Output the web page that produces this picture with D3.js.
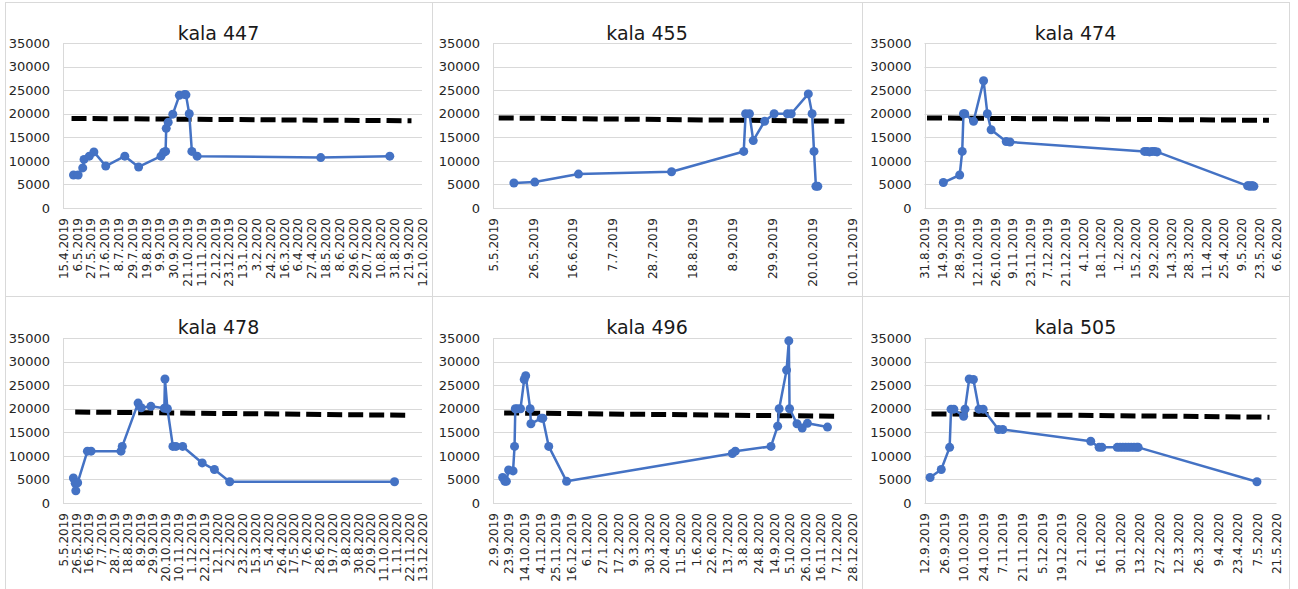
<!DOCTYPE html>
<html>
<head>
<meta charset="utf-8">
<script src="https://cdn.jsdelivr.net/npm/d3@7"></script>
<style>
  html, body { margin: 0; padding: 0; background: #fff; }
  svg { display: block; font-family: "DejaVu Sans", sans-serif; }
</style>
</head>
<body>
<svg id="chart" width="1298" height="589"></svg>
<script>
// ---- Panel titles ----
const titles = ["kala 447", "kala 455", "kala 474", "kala 478", "kala 496", "kala 505"];

// ---- Value axis ----
const yTicks = [0, 5000, 10000, 15000, 20000, 25000, 30000, 35000];

// ---- kala 447 ----
const tickLabels447 = ["15.4.2019","6.5.2019","27.5.2019","17.6.2019","8.7.2019","29.7.2019","19.8.2019","9.9.2019","30.9.2019","21.10.2019","11.11.2019","2.12.2019","23.12.2019","13.1.2020","3.2.2020","24.2.2020","16.3.2020","6.4.2020","27.4.2020","18.5.2020","8.6.2020","29.6.2020","20.7.2020","10.8.2020","31.8.2020","21.9.2020","12.10.2020"];
const dates447 = ["1.5.2019","8.5.2019","15.5.2019","17.5.2019","25.5.2019","1.6.2019","19.6.2019","18.7.2019","8.8.2019","11.9.2019","15.9.2019","18.9.2019","19.9.2019","22.9.2019","29.9.2019","9.10.2019","17.10.2019","19.10.2019","24.10.2019","28.10.2019","5.11.2019","11.5.2020","24.8.2020"];
const values447 = [7000,7000,8500,10300,11000,11900,8900,11000,8700,11000,11800,12000,16900,18200,19900,23900,24100,24000,20000,12000,11000,10700,11000];
const limitDates447 = ["28.4.2019","26.9.2020"];
const limitValues447 = [19000,18500];

// ---- kala 455 ----
const tickLabels455 = ["5.5.2019","26.5.2019","16.6.2019","7.7.2019","28.7.2019","18.8.2019","8.9.2019","29.9.2019","20.10.2019","10.11.2019"];
const dates455 = ["16.5.2019","27.5.2019","19.6.2019","7.8.2019","14.9.2019","15.9.2019","17.9.2019","19.9.2019","25.9.2019","30.9.2019","7.10.2019","9.10.2019","18.10.2019","20.10.2019","21.10.2019","22.10.2019","23.10.2019"];
const values455 = [5300,5500,7200,7700,12000,20000,20000,14300,18400,20000,20000,20000,24200,20000,12000,4600,4600];
const limitDates455 = ["8.5.2019","6.11.2019"];
const limitValues455 = [19100,18400];

// ---- kala 474 ----
const tickLabels474 = ["31.8.2019","14.9.2019","28.9.2019","12.10.2019","26.10.2019","9.11.2019","23.11.2019","7.12.2019","21.12.2019","4.1.2020","18.1.2020","1.2.2020","15.2.2020","29.2.2020","14.3.2020","28.3.2020","11.4.2020","25.4.2020","9.5.2020","23.5.2020","6.6.2020"];
const dates474 = ["15.9.2019","28.9.2019","30.9.2019","1.10.2019","2.10.2019","9.10.2019","17.10.2019","20.10.2019","23.10.2019","4.11.2019","7.11.2019","22.2.2020","24.2.2020","26.2.2020","28.2.2020","1.3.2020","3.3.2020","14.5.2020","15.5.2020","16.5.2020","17.5.2020","18.5.2020","19.5.2020"];
const values474 = [5400,7000,12000,20000,20000,18400,27000,20000,16600,14100,14000,12000,12000,11900,12000,12000,11900,4700,4700,4600,4700,4700,4600];
const limitDates474 = ["2.9.2019","31.5.2020"];
const limitValues474 = [19100,18600];

// ---- kala 478 ----
const tickLabels478 = ["5.5.2019","26.5.2019","16.6.2019","7.7.2019","28.7.2019","18.8.2019","8.9.2019","29.9.2019","20.10.2019","10.11.2019","1.12.2019","22.12.2019","12.1.2020","2.2.2020","23.2.2020","15.3.2020","5.4.2020","26.4.2020","17.5.2020","7.6.2020","28.6.2020","19.7.2020","9.8.2020","30.8.2020","20.9.2020","11.10.2020","1.11.2020","22.11.2020","13.12.2020"];
const dates478 = ["22.5.2019","25.5.2019","26.5.2019","29.5.2019","14.6.2019","20.6.2019","8.8.2019","10.8.2019","5.9.2019","10.9.2019","26.9.2019","18.10.2019","19.10.2019","23.10.2019","1.11.2019","6.11.2019","17.11.2019","19.12.2019","8.1.2020","2.2.2020","29.10.2020"];
const values478 = [5300,4200,2600,4300,11000,11000,11000,12000,21200,20200,20500,20100,26300,20000,12000,12000,12000,8500,7100,4500,4500];
const limitDates478 = ["25.5.2019","25.11.2020"];
const limitValues478 = [19300,18600];

// ---- kala 496 ----
const tickLabels496 = ["2.9.2019","23.9.2019","14.10.2019","4.11.2019","25.11.2019","16.12.2019","6.1.2020","27.1.2020","17.2.2020","9.3.2020","30.3.2020","20.4.2020","11.5.2020","1.6.2020","22.6.2020","13.7.2020","3.8.2020","24.8.2020","14.9.2020","5.10.2020","26.10.2020","16.11.2020","7.12.2020","28.12.2020"];
const dates496 = ["15.9.2019","18.9.2019","20.9.2019","23.9.2019","29.9.2019","1.10.2019","2.10.2019","5.10.2019","9.10.2019","14.10.2019","16.10.2019","22.10.2019","23.10.2019","6.11.2019","8.11.2019","16.11.2019","10.12.2019","20.7.2020","24.7.2020","10.9.2020","19.9.2020","21.9.2020","1.10.2020","4.10.2020","5.10.2020","15.10.2020","22.10.2020","29.10.2020","25.11.2020"];
const values496 = [5400,4600,4600,7000,6800,12000,20000,20000,20000,26200,27000,20000,16800,18000,18000,12000,4600,10500,11000,12000,16300,20000,28200,34400,20000,16800,15900,16900,16100];
const limitDates496 = ["17.9.2019","8.12.2020"];
const limitValues496 = [19100,18400];

// ---- kala 505 ----
const tickLabels505 = ["12.9.2019","26.9.2019","10.10.2019","24.10.2019","7.11.2019","21.11.2019","5.12.2019","19.12.2019","2.1.2020","16.1.2020","30.1.2020","13.2.2020","27.2.2020","12.3.2020","26.3.2020","9.4.2020","23.4.2020","7.5.2020","21.5.2020"];
const dates505 = ["16.9.2019","24.9.2019","30.9.2019","1.10.2019","3.10.2019","10.10.2019","11.10.2019","14.10.2019","17.10.2019","21.10.2019","24.10.2019","4.11.2019","7.11.2019","9.1.2020","15.1.2020","17.1.2020","28.1.2020","30.1.2020","1.2.2020","3.2.2020","5.2.2020","7.2.2020","9.2.2020","11.2.2020","12.2.2020","7.5.2020"];
const values505 = [5400,7100,11800,19900,19900,18400,19900,26300,26200,19900,19900,15600,15600,13100,11800,11800,11800,11800,11800,11800,11800,11800,11800,11800,11800,4500];
const limitDates505 = ["17.9.2019","16.5.2020"];
const limitValues505 = [18900,18200];

// ---- Panel table built from the arrays above ----
const panels = [
  { title: titles[0], ticks: tickLabels447, dates: dates447, values: values447, limitDates: limitDates447, limitValues: limitValues447 },
  { title: titles[1], ticks: tickLabels455, dates: dates455, values: values455, limitDates: limitDates455, limitValues: limitValues455 },
  { title: titles[2], ticks: tickLabels474, dates: dates474, values: values474, limitDates: limitDates474, limitValues: limitValues474 },
  { title: titles[3], ticks: tickLabels478, dates: dates478, values: values478, limitDates: limitDates478, limitValues: limitValues478 },
  { title: titles[4], ticks: tickLabels496, dates: dates496, values: values496, limitDates: limitDates496, limitValues: limitValues496 },
  { title: titles[5], ticks: tickLabels505, dates: dates505, values: values505, limitDates: limitDates505, limitValues: limitValues505 }
];

// ---- Layout of the 3 x 2 grid ----
const colBox  = [[5, 432], [432, 862], [862, 1289]];
const colPlot = [[63, 422], [493, 852], [924.5, 1276.5]];
const rowBox  = [[2, 296], [296, 592]];
const rowPlot = [[43, 208], [338, 503]];

const parseDate = d3.timeParse("%d.%m.%Y");
const svg = d3.select("#chart");

const seriesColor = "#4472C4";
const gridColor = "#d9d9d9";
const labelColor = "#262626";

panels.forEach((p, i) => {
  const c = i % 3, r = Math.floor(i / 3);
  const [bx0, bx1] = colBox[c];
  const [by0, by1] = rowBox[r];
  const [px0, px1] = colPlot[c];
  const [py0, py1] = rowPlot[r];

  const g = svg.append("g");

  // panel frame
  g.append("rect")
    .attr("x", bx0 + 0.5).attr("y", by0 + 0.5)
    .attr("width", bx1 - bx0).attr("height", by1 - by0)
    .attr("fill", "#fff").attr("stroke", gridColor);

  const tickDates = p.ticks.map(parseDate);
  const x = d3.scaleTime()
    .domain([tickDates[0], tickDates[tickDates.length - 1]])
    .range([px0, px1]);
  const y = d3.scaleLinear().domain([0, 35000]).range([py1, py0]);

  // horizontal gridlines
  g.append("g").selectAll("line").data(yTicks).join("line")
    .attr("x1", px0).attr("x2", px1)
    .attr("y1", d => Math.round(y(d)) + 0.5)
    .attr("y2", d => Math.round(y(d)) + 0.5)
    .attr("stroke", gridColor).attr("stroke-width", 1);

  // left edge of the plot area
  g.append("line")
    .attr("x1", Math.round(px0) + 0.5).attr("x2", Math.round(px0) + 0.5)
    .attr("y1", py0).attr("y2", py1)
    .attr("stroke", gridColor);

  // value axis
  const yAxisG = g.append("g")
    .attr("transform", `translate(${px0},0)`)
    .call(d3.axisLeft(y).tickValues(yTicks).tickSize(0).tickPadding(13).tickFormat(d3.format("d")));
  yAxisG.select(".domain").remove();
  yAxisG.attr("font-family", null).attr("font-size", null);
  yAxisG.selectAll("text")
    .attr("fill", labelColor)
    .style("font-size", "13px");

  // date axis with rotated labels
  const xAxisG = g.append("g")
    .attr("transform", `translate(0,${py1})`)
    .call(d3.axisBottom(x).tickValues(tickDates).tickSize(0).tickFormat((d, k) => p.ticks[k]));
  xAxisG.select(".domain").remove();
  xAxisG.attr("font-family", null).attr("font-size", null);
  xAxisG.selectAll("text")
    .attr("transform", "rotate(-90)")
    .attr("text-anchor", "end")
    .attr("x", -10).attr("y", 0).attr("dy", "0.35em")
    .attr("fill", labelColor)
    .style("font-size", "12px");

  // dashed limit line
  const limit = p.limitDates.map((d, k) => ({ date: parseDate(d), value: p.limitValues[k] }));
  g.append("path")
    .datum(limit)
    .attr("d", d3.line().x(d => x(d.date)).y(d => y(d.value)))
    .attr("fill", "none")
    .attr("stroke", "#000")
    .attr("stroke-width", 5)
    .attr("stroke-dasharray", "15,6");

  // measured series
  const pts = p.dates.map((d, k) => ({ date: parseDate(d), value: p.values[k] }));
  g.append("path")
    .datum(pts)
    .attr("d", d3.line().x(d => x(d.date)).y(d => y(d.value)))
    .attr("fill", "none")
    .attr("stroke", seriesColor)
    .attr("stroke-width", 2.5)
    .attr("stroke-linejoin", "round");
  g.append("g").selectAll("circle").data(pts).join("circle")
    .attr("cx", d => x(d.date))
    .attr("cy", d => y(d.value))
    .attr("r", 4.5)
    .attr("fill", seriesColor);

  // title
  g.append("text")
    .attr("x", (bx0 + bx1) / 2)
    .attr("y", by0 + 38)
    .attr("text-anchor", "middle")
    .attr("fill", "#1a1a1a")
    .style("font-size", "19px")
    .text(p.title);
});
</script>
</body>
</html>
